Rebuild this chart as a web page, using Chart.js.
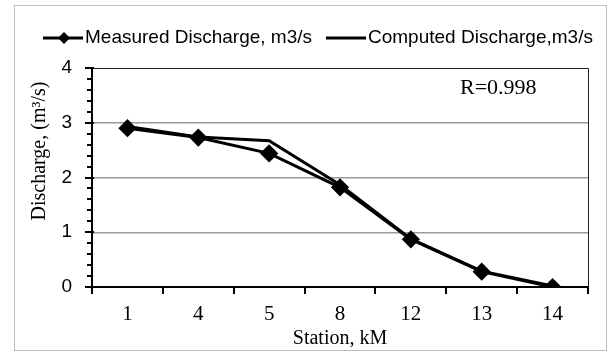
<!DOCTYPE html>
<html>
<head>
<meta charset="utf-8">
<script src="https://cdn.jsdelivr.net/npm/chart.js@4"></script>
<style>
  html, body { margin: 0; padding: 0; background: #fff; }
  canvas { display: block; }
</style>
</head>
<body>
<canvas id="chart" width="608" height="354"></canvas>
<script>
const stations = ['1', '4', '5', '8', '12', '13', '14'];
const measured = [2.90, 2.73, 2.44, 1.82, 0.87, 0.28, 0.0];
const computed = [2.93, 2.74, 2.67, 1.87, 0.88, 0.29, 0.02];
const legendNames = ['Measured Discharge, m3/s', 'Computed Discharge,m3/s'];
const yTitle = 'Discharge, (m\u00B3/s)';
const xTitle = 'Station, kM';
const note = 'R=0.998';

// frame, minor ticks, titles, legend and note
const decorations = {
  id: 'decorations',
  afterDraw(chart) {
    const ctx = chart.ctx;
    const area = chart.chartArea;
    const y = chart.scales.y;
    ctx.save();

    // outer picture frame
    ctx.strokeStyle = '#bdbdbd';
    ctx.lineWidth = 1;
    ctx.strokeRect(14.5, 5.5, 592, 345);

    // plot border top + right
    ctx.strokeStyle = '#222';
    ctx.beginPath();
    ctx.moveTo(area.left, area.top + 0.5);
    ctx.lineTo(area.right + 0.5, area.top + 0.5);
    ctx.lineTo(area.right + 0.5, area.bottom);
    ctx.stroke();

    // y axis ticks (minor every 0.2)
    ctx.strokeStyle = '#000';
    ctx.lineWidth = 2;
    for (let i = 0; i <= 20; i++) {
      const py = Math.round(y.getPixelForValue(i / 5));
      const major = i % 5 === 0;
      ctx.beginPath();
      ctx.moveTo(area.left - (major ? 7 : 5), py);
      ctx.lineTo(area.left + (major ? 2 : 0), py);
      ctx.stroke();
    }

    // axis titles
    ctx.fillStyle = '#000';
    ctx.font = '20px "Liberation Serif", "Times New Roman", serif';
    ctx.textAlign = 'center';
    ctx.textBaseline = 'middle';
    ctx.fillText(xTitle, 340, 339);
    ctx.save();
    ctx.translate(40, 151);
    ctx.rotate(-Math.PI / 2);
    ctx.fillText(yTitle, 0, 0);
    ctx.restore();

    // note
    ctx.font = '22px "Liberation Serif", "Times New Roman", serif';
    ctx.textAlign = 'left';
    ctx.fillText(note, 460, 88);

    // legend
    const ly = 38;
    const items = [
      { x0: 43, x1: 83, tx: 85, ds: chart.data.datasets[0] },
      { x0: 326, x1: 366, tx: 368, ds: chart.data.datasets[1] }
    ];
    ctx.font = '19px "Liberation Sans", Arial, sans-serif';
    items.forEach((it, i) => {
      ctx.strokeStyle = it.ds.borderColor;
      ctx.lineWidth = it.ds.borderWidth;
      ctx.beginPath();
      ctx.moveTo(it.x0, ly);
      ctx.lineTo(it.x1, ly);
      ctx.stroke();
      if (it.ds.pointRadius > 0) {
        const cx = 64, r = 6;
        ctx.fillStyle = it.ds.pointBackgroundColor;
        ctx.beginPath();
        ctx.moveTo(cx, ly - r);
        ctx.lineTo(cx + r, ly);
        ctx.lineTo(cx, ly + r);
        ctx.lineTo(cx - r, ly);
        ctx.closePath();
        ctx.fill();
      }
      ctx.fillStyle = '#000';
      ctx.fillText(legendNames[i], it.tx, ly);
    });
    ctx.restore();
  }
};

new Chart(document.getElementById('chart'), {
  type: 'line',
  data: {
    labels: stations,
    datasets: [
      {
        label: legendNames[0],
        data: measured,
        borderColor: '#000',
        borderWidth: 3,
        pointStyle: 'rectRot',
        pointRadius: 7,
        pointBackgroundColor: '#000',
        pointBorderColor: '#000',
        tension: 0
      },
      {
        label: legendNames[1],
        data: computed,
        borderColor: '#000',
        borderWidth: 3,
        pointRadius: 0,
        tension: 0
      }
    ]
  },
  options: {
    responsive: false,
    animation: false,
    layout: { padding: { left: 0, top: 68, right: 20, bottom: 0 } },
    plugins: { legend: { display: false }, title: { display: false }, tooltip: { enabled: false } },
    scales: {
      x: {
        type: 'category',
        offset: true,
        afterFit: s => { s.height = 67; },
        grid: {
          offset: true,
          drawOnChartArea: false,
          drawTicks: true,
          tickLength: 7,
          tickColor: '#000',
          lineWidth: 2
        },
        border: { color: '#000', width: 2 },
        ticks: {
          color: '#000',
          padding: 8,
          font: { family: '"Liberation Serif", "Times New Roman", serif', size: 21 }
        }
      },
      y: {
        min: 0,
        max: 4,
        afterFit: s => { s.width = 92; },
        grid: {
          drawTicks: false,
          color: ctx => (ctx.tick && ctx.tick.value > 0 && ctx.tick.value < 4) ? '#9a9a9a' : 'rgba(0,0,0,0)',
          lineWidth: 1.5
        },
        border: { color: '#000', width: 2 },
        ticks: {
          stepSize: 1,
          color: '#000',
          padding: 20,
          font: { family: '"Liberation Sans", Arial, sans-serif', size: 19 }
        }
      }
    }
  },
  plugins: [decorations]
});
</script>
</body>
</html>
